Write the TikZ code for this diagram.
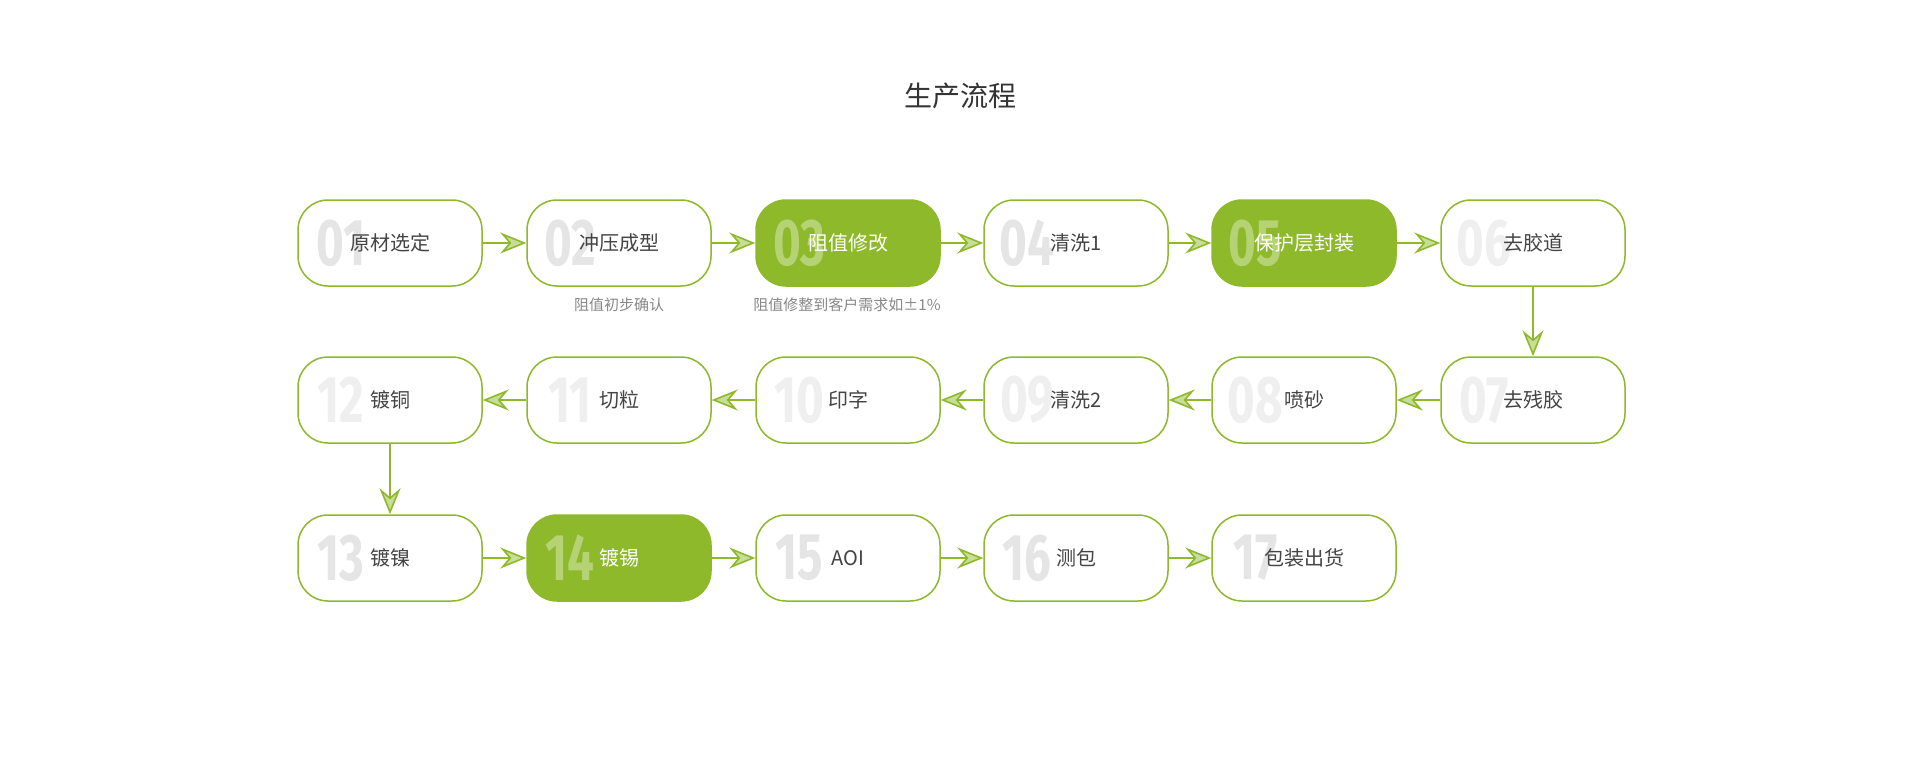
\documentclass[tikz,border=0pt]{standalone}
\usepackage{fontspec}
\setmainfont{Noto Sans CJK SC}
\newfontfamily\numfont{Fira Sans}
\usetikzlibrary{arrows.meta}
\definecolor{lg}{HTML}{8DB92B}
\definecolor{arrowfill}{HTML}{C8DE98}
\definecolor{txt}{HTML}{444444}
\definecolor{subtxt}{HTML}{888888}
\definecolor{numa}{HTML}{E5E5E5}
\definecolor{numb}{HTML}{EFEFEF}
\colorlet{numhot}{lg!65!white}
\newcommand\mkstep[7]{%
  \node[#6] (#1) at (#2,#3) {};
  \node[num, text=#7] (#1n) at ([xshift=44pt]#1.west) {\scalebox{0.72}[1]{#4}};
  \node[lbl, #6lbl] (#1t) at (#1.center) {#5};
}
\begin{document}
\begin{tikzpicture}[x=1pt,y=-1pt,
  stepbox/.style={draw=lg, line width=1.5pt, rounded corners=30pt, minimum width=184pt, minimum height=86pt, fill=white, inner sep=0pt},
  hotbox/.style={stepbox, fill=lg},
  stepboxlbl/.style={text=txt},
  hotboxlbl/.style={text=white},
  lbl/.style={font=\fontsize{20}{24}\selectfont, inner sep=0pt},
  num/.style={font=\numfont\bfseries\fontsize{66}{66}\selectfont, inner sep=0pt},
  sub/.style={font=\fontsize{15}{18}\selectfont, text=subtxt, inner sep=0pt},
  flow/.style={draw=lg, line width=1.6pt, -{Stealth[length=26pt,width=21pt,inset=9pt,fill=arrowfill]}}
]
\useasboundingbox (0,0) rectangle (1920,765);
\fill[white] (0,0) rectangle (1920,765);
\node[font=\fontsize{28}{32}\selectfont, text=black!80] (title) at (960,96) {生产流程};
% row 1
\mkstep{b1}{390}{243}{01}{原材选定}{stepbox}{numa}
\mkstep{b2}{619}{243}{02}{冲压成型}{stepbox}{numa}
\mkstep{b3}{848}{243}{03}{阻值修改}{hotbox}{numhot}
\mkstep{b4}{1076}{243}{04}{清洗1}{stepbox}{numa}
\mkstep{b5}{1304}{243}{05}{保护层封装}{hotbox}{numhot}
\mkstep{b6}{1533}{243}{06}{去胶道}{stepbox}{numb}
% row 2
\mkstep{b7}{1533}{400}{07}{去残胶}{stepbox}{numb}
\mkstep{b8}{1304}{400}{08}{喷砂}{stepbox}{numb}
\mkstep{b9}{1076}{400}{09}{清洗2}{stepbox}{numb}
\mkstep{b10}{848}{400}{10}{印字}{stepbox}{numb}
\mkstep{b11}{619}{400}{11}{切粒}{stepbox}{numb}
\mkstep{b12}{390}{400}{12}{镀铜}{stepbox}{numb}
% row 3
\mkstep{b13}{390}{558}{13}{镀镍}{stepbox}{numa}
\mkstep{b14}{619}{558}{14}{镀锡}{hotbox}{numhot}
\mkstep{b15}{848}{558}{15}{AOI}{stepbox}{numa}
\mkstep{b16}{1076}{558}{16}{测包}{stepbox}{numa}
\mkstep{b17}{1304}{558}{17}{包装出货}{stepbox}{numa}
% notes
\node[sub] (s2) at (619,305) {阻值初步确认};
\node[sub] (s3) at (847,305) {阻值修整到客户需求如±1\%};
% connectors
\draw[flow] (b1.east) -- (b2.west);
\draw[flow] (b2.east) -- (b3.west);
\draw[flow] (b3.east) -- (b4.west);
\draw[flow] (b4.east) -- (b5.west);
\draw[flow] (b5.east) -- (b6.west);
\draw[flow] (b6.south) -- (b7.north);
\draw[flow] (b7.west) -- (b8.east);
\draw[flow] (b8.west) -- (b9.east);
\draw[flow] (b9.west) -- (b10.east);
\draw[flow] (b10.west) -- (b11.east);
\draw[flow] (b11.west) -- (b12.east);
\draw[flow] (b12.south) -- (b13.north);
\draw[flow] (b13.east) -- (b14.west);
\draw[flow] (b14.east) -- (b15.west);
\draw[flow] (b15.east) -- (b16.west);
\draw[flow] (b16.east) -- (b17.west);
\end{tikzpicture}
\end{document}
